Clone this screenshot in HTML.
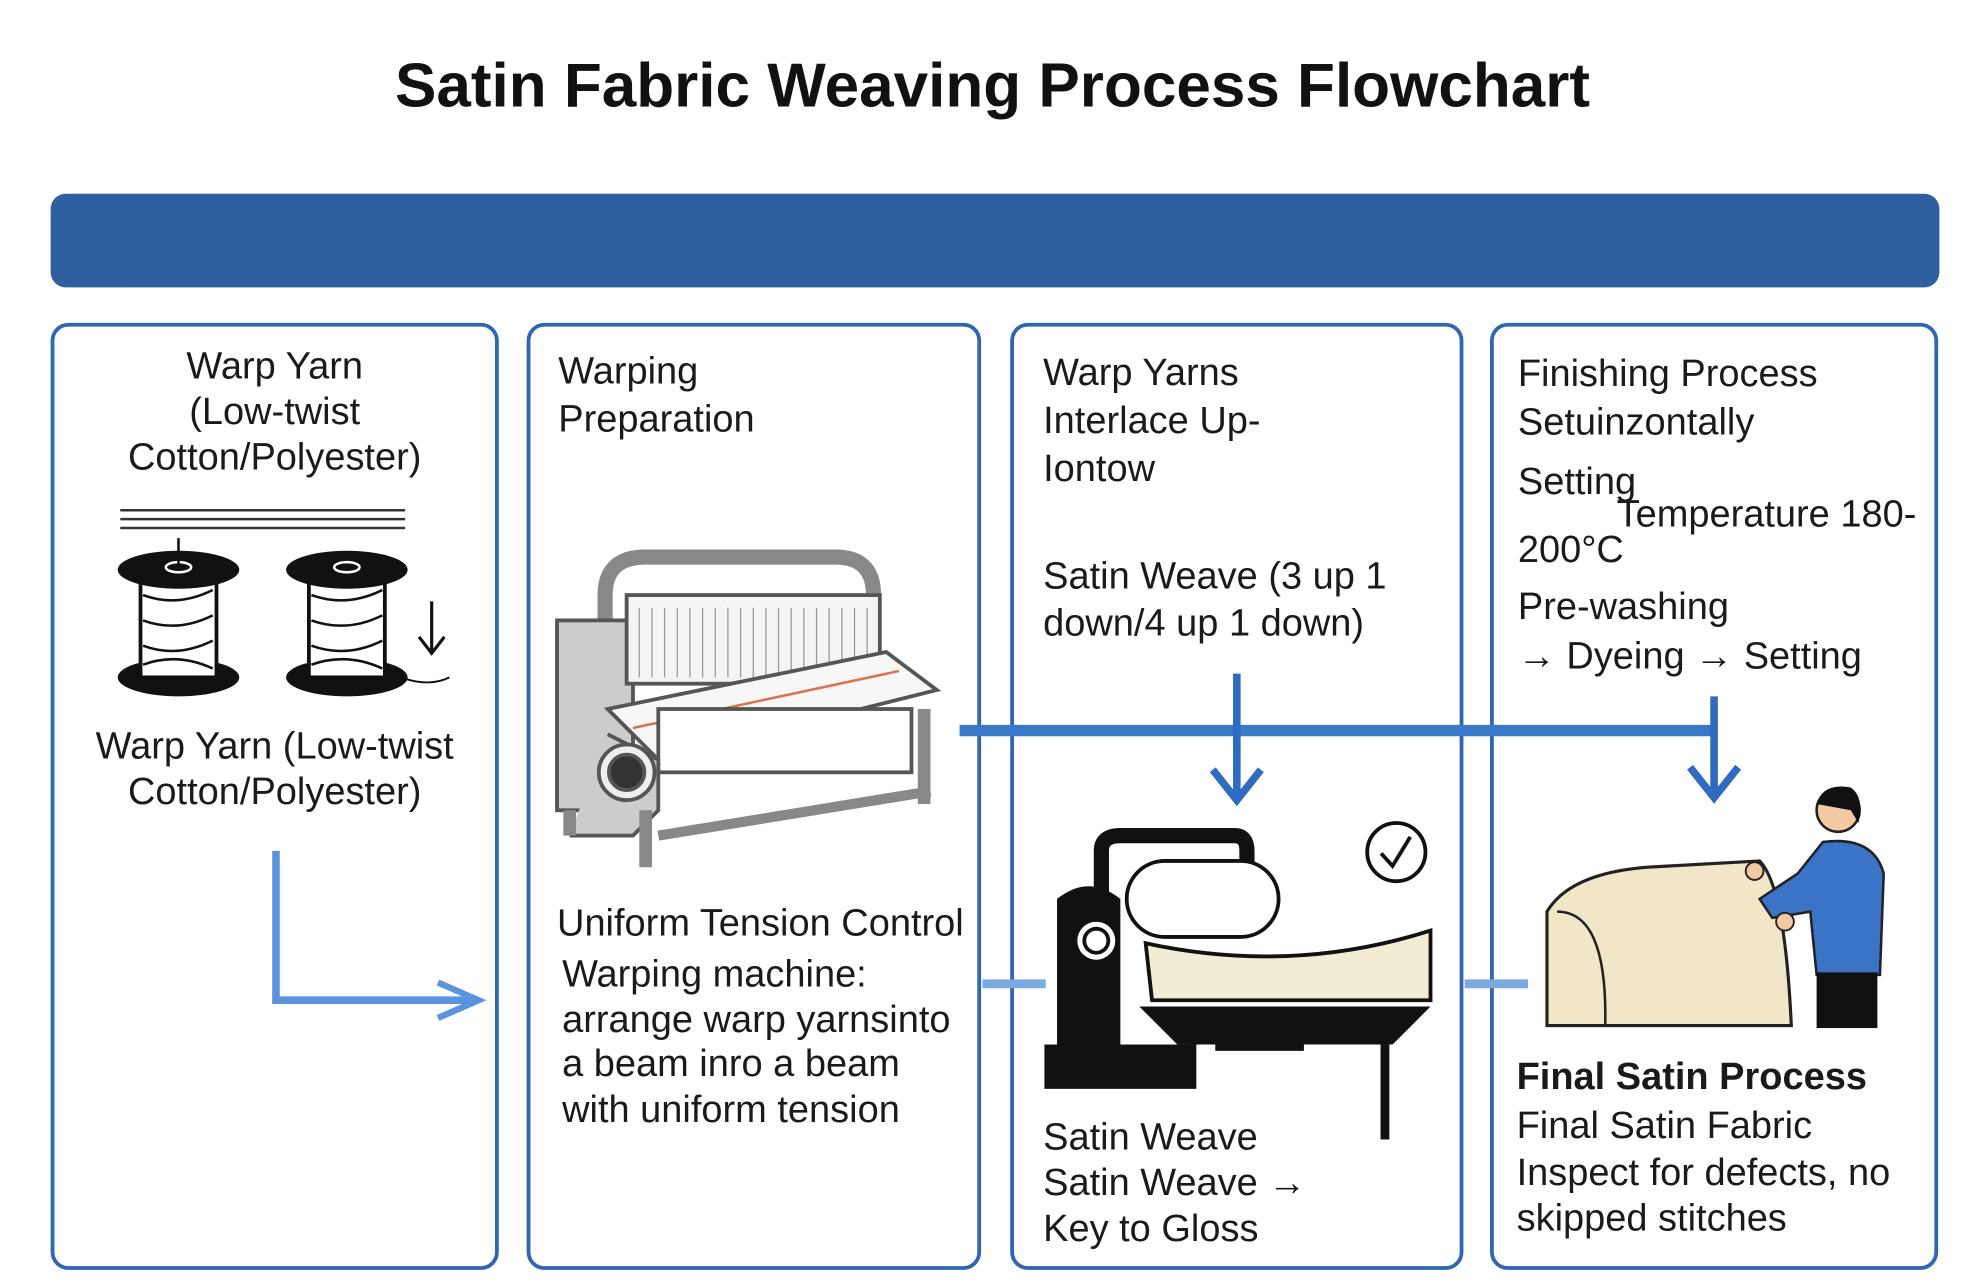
<!DOCTYPE html>
<html><head><meta charset="utf-8"><style>
html,body{margin:0;padding:0;background:#fff;overflow:hidden}
#w{position:absolute;left:0;top:0;width:1568px;height:1011px;transform:scale(1.26594,1.2661);transform-origin:0 0;font-family:"Liberation Sans",sans-serif;color:#1a1a1a}
.t{position:absolute;font-size:30px;white-space:nowrap;line-height:36px}
.box{position:absolute;top:255px;height:748px;border:3px solid #2f66b3;border-radius:14px;box-sizing:border-box}
</style></head><body><div id="w">
<div class="t" style="left:0;width:1568px;text-align:center;top:38px;font-size:49px;font-weight:bold;line-height:60px;color:#111">Satin Fabric Weaving Process Flowchart</div>
<div style="position:absolute;left:40px;top:153px;width:1492px;height:74px;background:#2f5f9f;border-radius:12px"></div>
<div class="box" style="left:40px;width:354px"></div>
<div class="box" style="left:416px;width:359px"></div>
<div class="box" style="left:798px;width:358px"></div>
<div class="box" style="left:1177px;width:354px"></div>

<svg style="position:absolute;left:0;top:0" width="1568" height="1011">
<path d="M218 672 V790 H372" fill="none" stroke="#5b93dc" stroke-width="6"/>
<path d="M346 776 L378 790 L346 804" fill="none" stroke="#5b93dc" stroke-width="5"/>
<line x1="758" y1="577" x2="1356" y2="577" stroke="#3a78c9" stroke-width="9"/>
<line x1="977" y1="532" x2="977" y2="630" stroke="#2f6bc0" stroke-width="6"/>
<path d="M958 608 L977 632 L996 608" fill="none" stroke="#2f6bc0" stroke-width="6"/>
<line x1="1354" y1="550" x2="1354" y2="628" stroke="#2f6bc0" stroke-width="6"/>
<path d="M1335 606 L1354 630 L1373 606" fill="none" stroke="#2f6bc0" stroke-width="6"/>
<line x1="776" y1="777" x2="826" y2="777" stroke="#7aaae0" stroke-width="7"/>
<line x1="1157" y1="777" x2="1207" y2="777" stroke="#7aaae0" stroke-width="7"/>
<g stroke="#333" stroke-width="2"><line x1="95" y1="403" x2="320" y2="403"/><line x1="95" y1="410" x2="320" y2="410"/><line x1="95" y1="417" x2="320" y2="417"/></g>
<g>
<ellipse cx="141" cy="535" rx="48" ry="15" fill="#111"/><rect x="111" y="450" width="60" height="85" fill="#fff" stroke="#111" stroke-width="3"/>
<path d="M113 470 Q140 480 168 466 M113 490 Q140 500 168 486 M113 510 Q140 520 168 506 M113 525 Q140 515 168 528" stroke="#111" stroke-width="2" fill="none"/>
<ellipse cx="141" cy="450" rx="48" ry="15" fill="#111"/><ellipse cx="141" cy="448" rx="10" ry="4" fill="none" stroke="#fff" stroke-width="2"/>
<line x1="141" y1="425" x2="141" y2="446" stroke="#111" stroke-width="2"/>
<ellipse cx="274" cy="535" rx="48" ry="15" fill="#111"/><rect x="244" y="450" width="60" height="85" fill="#fff" stroke="#111" stroke-width="3"/>
<path d="M246 470 Q274 480 302 466 M246 490 Q274 500 302 486 M246 510 Q274 520 302 506 M246 525 Q274 515 302 528" stroke="#111" stroke-width="2" fill="none"/>
<ellipse cx="274" cy="450" rx="48" ry="15" fill="#111"/><ellipse cx="274" cy="448" rx="10" ry="4" fill="none" stroke="#fff" stroke-width="2"/>
<path d="M341 475 V515 M331 503 L341 516 L351 503" stroke="#111" stroke-width="2.5" fill="none"/>
<path d="M305 530 Q335 545 355 535" stroke="#111" stroke-width="1.5" fill="none"/>
</g>
<g stroke="#555" stroke-width="3" fill="#ddd">
<path d="M478 520 V470 Q478 440 510 440 H660 Q690 440 690 470 V520" fill="none" stroke="#888" stroke-width="12"/>
<rect x="440" y="490" width="60" height="150" fill="#ccc"/>
<rect x="495" y="470" width="200" height="70" fill="#f4f4f4"/>
<g stroke="#999" stroke-width="1"><path d="M505 480 V535 M515 480 V535 M525 480 V535 M535 480 V535 M545 480 V535 M555 480 V535 M565 480 V535 M575 480 V535 M585 480 V535 M595 480 V535 M605 480 V535 M615 480 V535 M625 480 V535 M635 480 V535 M645 480 V535 M655 480 V535 M665 480 V535 M675 480 V535 M685 480 V535"/></g>
<path d="M480 560 L700 515 L740 545 L520 600 Z" fill="#f7f7f7"/>
<line x1="500" y1="575" x2="710" y2="530" stroke="#d9734f" stroke-width="2"/>
<rect x="520" y="560" width="200" height="50" fill="#fff" stroke="#555"/>
<path d="M480 580 L520 600 V640 L500 660 H450" fill="#ccc"/>
<circle cx="495" cy="610" r="22" fill="#eee"/><circle cx="495" cy="610" r="14" fill="#333"/>
<line x1="510" y1="640" x2="510" y2="685" stroke="#888" stroke-width="10"/>
<line x1="730" y1="560" x2="730" y2="635" stroke="#888" stroke-width="10"/>
<line x1="520" y1="660" x2="735" y2="625" stroke="#888" stroke-width="8"/>
<line x1="450" y1="640" x2="450" y2="660" stroke="#888" stroke-width="10"/>
</g>
<g>
<circle cx="1103" cy="673" r="23" fill="#fff" stroke="#111" stroke-width="3"/><path d="M1091 674 L1100 684 L1114 661" fill="none" stroke="#111" stroke-width="3"/>
<path d="M870 720 V672 Q870 660 885 660 H975 Q985 660 985 672 V720" fill="none" stroke="#111" stroke-width="12"/>
<path d="M905 745 Q1020 770 1130 735 V790 H910 Z" fill="#f3ecd4" stroke="#111" stroke-width="3"/>
<rect x="890" y="680" width="120" height="60" rx="30" fill="#fff" stroke="#111" stroke-width="3"/>
<path d="M835 710 Q860 690 885 710 V830 H835 Z" fill="#111"/>
<circle cx="866" cy="743" r="15" fill="#fff"/><circle cx="866" cy="743" r="11" fill="#111"/><circle cx="866" cy="743" r="8" fill="#fff"/>
<rect x="825" y="825" width="120" height="35" fill="#111"/>
<path d="M900 795 H1130 L1100 825 H930 Z" fill="#111"/>
<line x1="1094" y1="820" x2="1094" y2="900" stroke="#111" stroke-width="7"/>
<rect x="960" y="810" width="70" height="20" fill="#111"/>
</g>
<g>
<path d="M1222 810 V720 Q1240 690 1300 685 L1390 680 Q1410 700 1415 810 Z" fill="#f1e6c7" stroke="#222" stroke-width="2.5"/>
<path d="M1230 720 Q1270 720 1268 810" fill="none" stroke="#222" stroke-width="2"/>
<path d="M1440 665 Q1480 660 1488 690 L1485 770 H1435 L1430 720 L1400 725 L1390 710 L1420 690 Z" fill="#3b73c6" stroke="#222" stroke-width="2"/>
<circle cx="1452" cy="640" r="17" fill="#f3c9a3" stroke="#222" stroke-width="2"/>
<path d="M1435 635 Q1440 618 1462 622 Q1473 630 1468 650 L1462 640 Z" fill="#111"/>
<rect x="1435" y="768" width="48" height="44" fill="#111"/>
<circle cx="1386" cy="688" r="7" fill="#f3c9a3" stroke="#222" stroke-width="1.5"/>
<circle cx="1410" cy="728" r="7" fill="#f3c9a3" stroke="#222" stroke-width="1.5"/>
</g>
</svg>

<div class="t" style="left:40px;width:354px;text-align:center;top:272px">Warp Yarn<br>(Low-twist<br>Cotton/Polyester)</div>
<div class="t" style="left:40px;width:354px;text-align:center;top:572px">Warp Yarn (Low-twist<br>Cotton/Polyester)</div>
<div class="t" style="left:441px;top:275px;line-height:38px">Warping<br>Preparation</div>
<div class="t" style="left:440px;top:712px">Uniform Tension Control</div>
<div class="t" style="left:444px;top:752px;line-height:35.5px">Warping machine:<br>arrange warp yarnsinto<br>a beam inro a beam<br>with uniform tension</div>
<div class="t" style="left:824px;top:276px;line-height:38px">Warp Yarns<br>Interlace Up-<br>Iontow</div>
<div class="t" style="left:824px;top:437px;line-height:37px">Satin Weave (3 up 1<br>down/4 up 1 down)</div>
<div class="t" style="left:824px;top:881px">Satin Weave<br>Satin Weave →<br>Key to Gloss</div>
<div class="t" style="left:1199px;top:277px;line-height:38px">Finishing Process<br>Setuinzontally</div>
<div class="t" style="left:1199px;top:363px">Setting</div>
<div class="t" style="left:1277px;top:389px">Temperature 180-</div>
<div class="t" style="left:1199px;top:417px">200°C</div>
<div class="t" style="left:1199px;top:460px;line-height:39px">Pre-washing<br>→ Dyeing → Setting</div>
<div class="t" style="left:1198px;top:833px;font-weight:bold">Final Satin Process</div>
<div class="t" style="left:1198px;top:872px;line-height:36.5px">Final Satin Fabric<br>Inspect for defects, no<br>skipped stitches</div>
</div></body></html>
